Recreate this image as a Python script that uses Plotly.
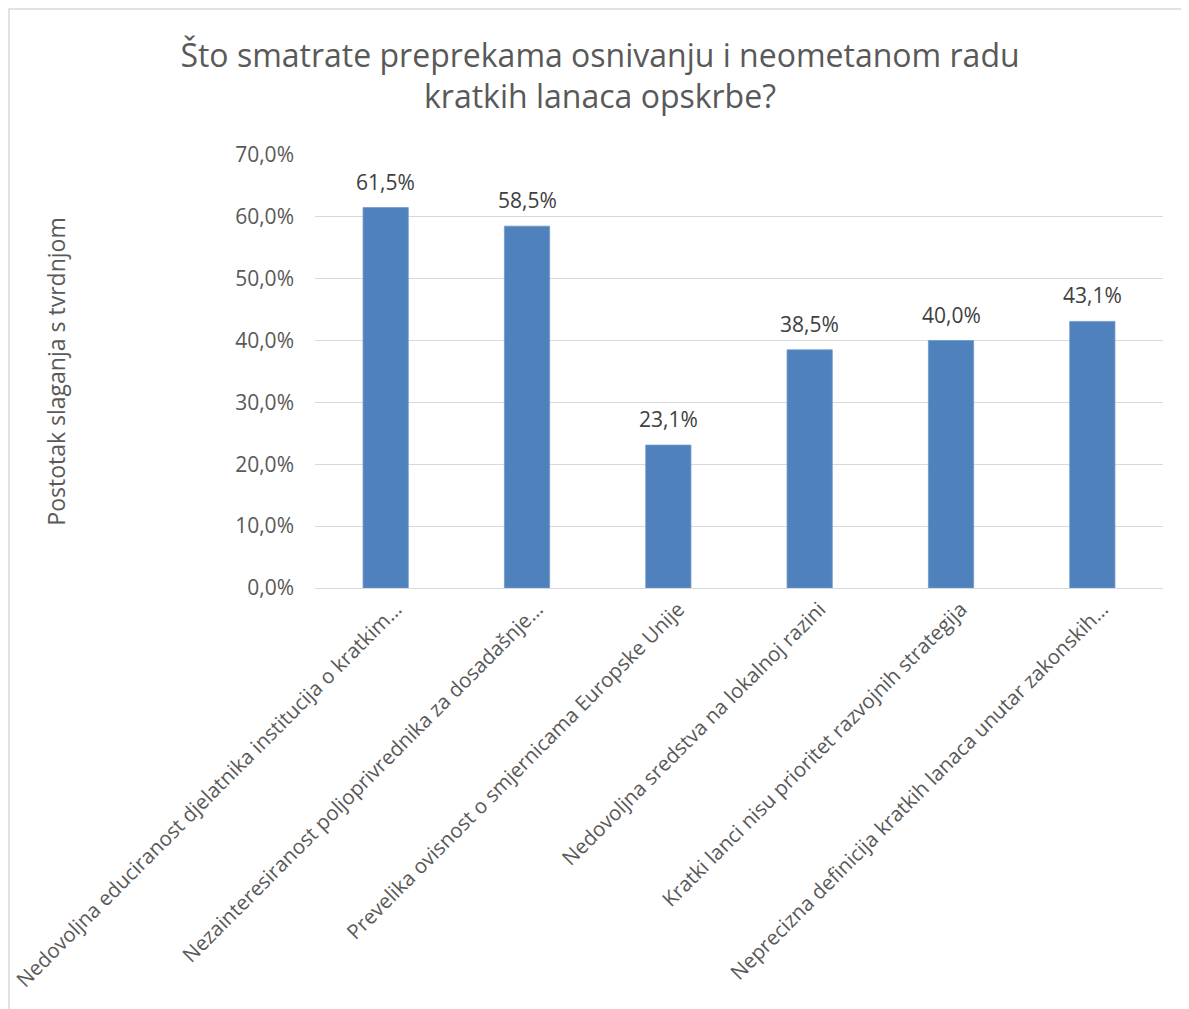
import plotly.graph_objects as go

categories = [
    "Nedovoljna educiranost djelatnika institucija o kratkim…",
    "Nezainteresiranost poljoprivrednika za dosadašnje…",
    "Prevelika ovisnost o smjernicama Europske Unije",
    "Nedovoljna sredstva na lokalnoj razini",
    "Kratki lanci nisu prioritet razvojnih strategija",
    "Neprecizna definicija kratkih lanaca unutar zakonskih…",
]
shares = [0.615, 0.585, 0.231, 0.385, 0.400, 0.431]
y_ticks = [0, 0.1, 0.2, 0.3, 0.4, 0.5, 0.6, 0.7]

font = "Open Sans, Liberation Sans, sans-serif"

fig = go.Figure()
fig.add_trace(go.Bar(
    x=categories, y=shares,
    marker=dict(color="#4F81BD", line=dict(width=0.8, color="#6F98CC")),
    width=0.32,
    cliponaxis=False,
))

# data labels sit a bit higher than plotly's outside text
for cat, val in zip(categories, shares):
    fig.add_annotation(
        x=cat, y=val, text=f"{val * 100:.1f}%".replace(".", ","),
        showarrow=False, yanchor="bottom", yshift=10,
        font=dict(size=21, color="#404040", family=font),
    )

# page body adds ~8px offset, margins compensate
fig.update_layout(
    width=1189, height=1009,
    separators=", ",
    paper_bgcolor="white", plot_bgcolor="white",
    margin=dict(l=307, r=34, t=147, b=429),
    showlegend=False,
    title=dict(
        text="Što smatrate preprekama osnivanju i neometanom radu<br>kratkih lanaca opskrbe?",
        xref="container", x=(600 - 8) / 1189, xanchor="center",
        yref="container", y=0.942, yanchor="top",
        font=dict(size=32, color="#595959", family=font),
    ),
    font=dict(family=font, color="#595959"),
    bargap=0.68,
)
fig.update_yaxes(
    range=[0, 0.7], tickvals=y_ticks, tickformat=".1%",
    showgrid=True, gridcolor="#D9D9D9", gridwidth=1.3,
    zeroline=False, showline=False, automargin=False,
    tickfont=dict(size=21, color="#595959"), ticks="", ticklen=0,
    ticklabelstandoff=20,
    title=dict(text="Postotak slaganja s tvrdnjom", standoff=163,
               font=dict(size=23, color="#595959")),
)
fig.update_xaxes(
    tickangle=-45, showline=True, linecolor="#D9D9D9", linewidth=1.3,
    automargin=False, ticklabelshift=10,
    tickfont=dict(size=20.5, color="#595959"), ticks="",
)
# outer chart border
fig.add_shape(type="rect", xref="paper", yref="paper",
              x0=(1 - 307) / 848, x1=(1200 - 307) / 848,
              y0=-(1020 - 580) / 433, y1=1 + (147 - 1) / 433,
              line=dict(color="#D9D9D9", width=1.5), layer="below")

fig.write_html("out.html")
